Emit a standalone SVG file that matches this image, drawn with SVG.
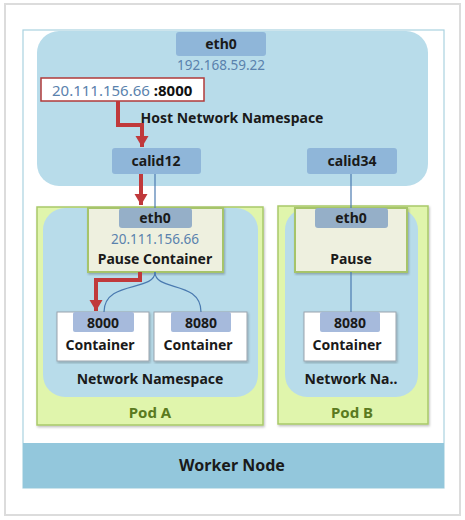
<svg xmlns="http://www.w3.org/2000/svg" width="465" height="520" viewBox="0 0 465 520">
<defs>
<style>
.t{font-family:"Noto Sans","Open Sans",sans-serif;font-weight:bold;fill:#1a1a1a;text-anchor:middle}
.ip{font-family:"Noto Sans","Open Sans",sans-serif;fill:#5a82ad;text-anchor:middle}
.nic{fill:#8fb6d9}
.pnic{fill:#95afc8}
.port{fill:#a6badc}
.pod{fill:#e0f5ac;stroke:#a9c96a;stroke-width:1.5}
.ns{fill:#b8dcea}
.pause{fill:#eef0df;stroke:#a6c46a;stroke-width:2}
.ctr{fill:#fff;stroke:#9aa4ad;stroke-width:1}
.ln{fill:none;stroke:#4a7ab0;stroke-width:1.2}
.red{fill:none;stroke:#c0393b;stroke-width:4;stroke-linejoin:miter}
.podt{font-family:"Noto Sans","Open Sans",sans-serif;font-weight:bold;fill:#5a7a20;text-anchor:middle;font-size:15px}
</style>
<marker id="ah" markerUnits="userSpaceOnUse" markerWidth="14" markerHeight="14" refX="11" refY="7" orient="auto">
<path d="M0,0.5 L11,7 L0,13.5 Z" fill="#c0393b"/>
</marker>
<filter id="sh" x="-5%" y="-5%" width="110%" height="110%">
<feDropShadow dx="1" dy="1.5" stdDeviation="1" flood-color="#000" flood-opacity="0.25"/>
</filter>
</defs>
<rect width="465" height="520" fill="#fff"/>
<rect id="frame" x="5" y="4" width="455" height="511" fill="#fff" stroke="#dcdcdc" stroke-width="2"/>
<g id="worker-node">
<rect x="23" y="30" width="421" height="458" fill="#fff" stroke="#aad2e0" stroke-width="1.2"/>
<rect x="23" y="443" width="421" height="45" fill="#93c7dc"/>
<text class="t" x="232" y="471" font-size="16">Worker Node</text>
</g>
<g id="host-ns">
<rect class="ns" x="37" y="31" width="391" height="155" rx="22"/>
<text class="t" x="232" y="123" font-size="14">Host Network Namespace</text>
</g>
<g id="host-eth0">
<rect class="nic" x="176" y="32" width="90" height="24" rx="3"/>
<text class="t" x="221" y="49" font-size="14">eth0</text>
<text class="ip" x="221" y="70" font-size="13.5">192.168.59.22</text>
</g>
<g id="service-ip">
<rect x="41" y="78" width="163" height="23" fill="#fff" stroke="#b03a3a" stroke-width="1.5"/>
<text x="52" y="95.5" font-family="'Noto Sans','Open Sans',sans-serif" font-size="15"><tspan fill="#5a82ad">20.111.156.66 </tspan><tspan fill="#111" font-weight="bold">:8000</tspan></text>
</g>
<g id="calid12">
<rect class="nic" x="112" y="148" width="89" height="26" rx="3"/>
<text class="t" x="156" y="166" font-size="14">calid12</text>
</g>
<g id="calid34">
<rect class="nic" x="307" y="148" width="90" height="26" rx="3"/>
<text class="t" x="352" y="166" font-size="14">calid34</text>
</g>
<g id="pod-a">
<rect class="pod" x="37" y="207" width="226" height="218" filter="url(#sh)"/>
<rect class="ns" x="43" y="208" width="215" height="189" rx="22"/>
<text class="t" x="150" y="384" font-size="14">Network Namespace</text>
<text class="podt" x="150" y="418">Pod A</text>
</g>
<g id="pod-b">
<rect class="pod" x="278" y="206" width="150" height="218" filter="url(#sh)"/>
<rect class="ns" x="285" y="208" width="133" height="189" rx="22"/>
<text class="t" x="351" y="384" font-size="14">Network Na..</text>
<text class="podt" x="352" y="418">Pod B</text>
</g>
<g id="pause-a">
<rect class="pause" x="88" y="208" width="135" height="64" filter="url(#sh)"/>
<rect class="pnic" x="119" y="208" width="73" height="20" rx="3"/>
<text class="t" x="155" y="223" font-size="14">eth0</text>
<text class="ip" x="155" y="244" font-size="13.5">20.111.156.66</text>
<text class="t" x="155" y="264" font-size="14">Pause Container</text>
</g>
<g id="pause-b">
<rect class="pause" x="295" y="208" width="112" height="64" filter="url(#sh)"/>
<rect class="pnic" x="315" y="208" width="73" height="20" rx="3"/>
<text class="t" x="351" y="223" font-size="14">eth0</text>
<text class="t" x="351" y="264" font-size="14">Pause</text>
</g>
<g id="container-8000">
<rect class="ctr" x="57" y="312" width="92" height="49" filter="url(#sh)"/>
<rect class="port" x="73" y="312" width="61" height="20" rx="2"/>
<text class="t" x="103" y="328" font-size="14">8000</text>
<text class="t" x="100" y="350" font-size="14">Container</text>
</g>
<g id="container-8080">
<rect class="ctr" x="154" y="312" width="93" height="49" filter="url(#sh)"/>
<rect class="port" x="171" y="312" width="60" height="20" rx="2"/>
<text class="t" x="201" y="328" font-size="14">8080</text>
<text class="t" x="198" y="350" font-size="14">Container</text>
</g>
<g id="container-b">
<rect class="ctr" x="304" y="312" width="92" height="49" filter="url(#sh)"/>
<rect class="port" x="320" y="312" width="60" height="20" rx="2"/>
<text class="t" x="350" y="328" font-size="14">8080</text>
<text class="t" x="347" y="350" font-size="14">Container</text>
</g>
<g id="connectors">
<line class="ln" x1="155" y1="174" x2="155" y2="208"/>
<line class="ln" x1="351" y1="174" x2="351" y2="208"/>
<line class="ln" x1="351" y1="272" x2="351" y2="312"/>
<path class="ln" d="M155,272 C155,292 104,280 104,312"/>
<path class="ln" d="M155,272 C155,292 201,280 201,312"/>
<path class="red" d="M118,101 L118,125 L142,125 L142,147" marker-end="url(#ah)"/>
<path class="red" d="M141,174 L141,205" marker-end="url(#ah)"/>
<path class="red" d="M140,272 L140,280 L96,280 L96,311" marker-end="url(#ah)"/>
</g>
</svg>
